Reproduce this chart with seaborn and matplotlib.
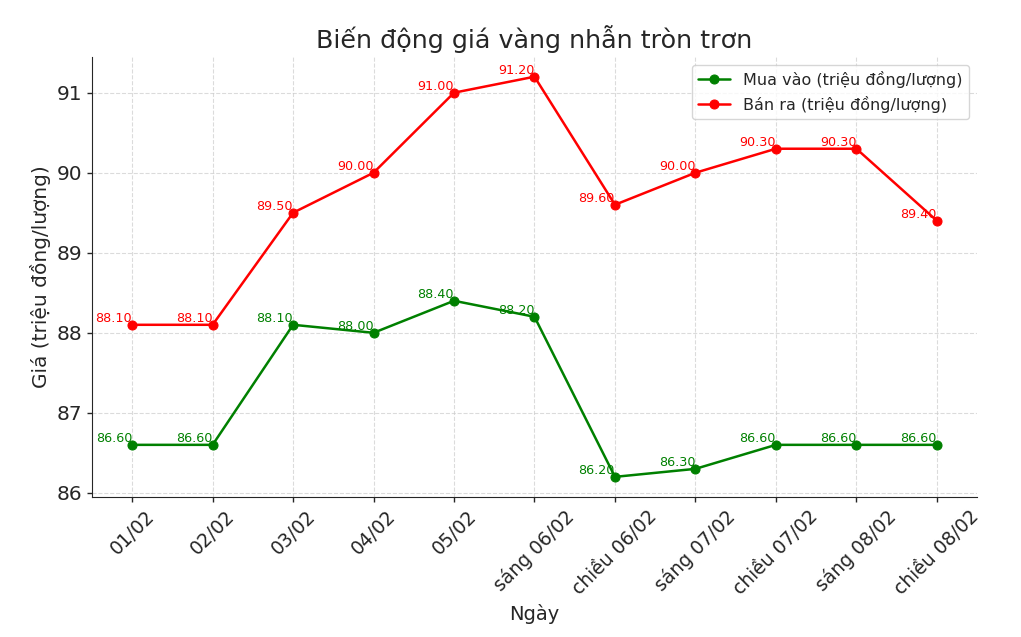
import matplotlib
matplotlib.use("Agg")
import matplotlib.pyplot as plt
import seaborn as sns
import pandas as pd

dates = ["01/02", "02/02", "03/02", "04/02", "05/02", "sáng 06/02", "chiều 06/02",
         "sáng 07/02", "chiều 07/02", "sáng 08/02", "chiều 08/02"]
mua_vao = [86.60, 86.60, 88.10, 88.00, 88.40, 88.20, 86.20, 86.30, 86.60, 86.60, 86.60]
ban_ra = [88.10, 88.10, 89.50, 90.00, 91.00, 91.20, 89.60, 90.00, 90.30, 90.30, 89.40]

sns.set_style("ticks")
plt.rcParams['font.family'] = ['DejaVu Sans']

fig = plt.figure(figsize=(10.21, 6.37), dpi=100)
ax = fig.add_axes([0.090, 0.220, 0.867, 0.691])

x = list(range(len(dates)))
df = pd.DataFrame({"x": x, "mua": mua_vao, "ban": ban_ra})

sns.lineplot(data=df, x="x", y="mua", ax=ax, color="green", marker="o",
             markersize=6.5, markeredgecolor="green", linewidth=1.8,
             label="Mua vào (triệu đồng/lượng)")
sns.lineplot(data=df, x="x", y="ban", ax=ax, color="red", marker="o",
             markersize=6.5, markeredgecolor="red", linewidth=1.8,
             label="Bán ra (triệu đồng/lượng)")

for xi, v in zip(x, mua_vao):
    ax.text(xi, v, f"{v:.2f}", color="green", fontsize=9.2, ha="right", va="bottom")
for xi, v in zip(x, ban_ra):
    ax.text(xi, v, f"{v:.2f}", color="red", fontsize=9.2, ha="right", va="bottom")

ax.set_xticks(x)
ax.set_xticklabels(dates, rotation=45, fontsize=13.5)
ax.tick_params(axis="y", labelsize=14.5)
ax.tick_params(axis="both", length=3.5, width=1, pad=3.5)
ax.set_xlim(-0.5, 10.5)
ax.set_ylim(85.95, 91.45)
ax.set_yticks([86, 87, 88, 89, 90, 91])
ax.grid(True, linestyle="--", alpha=0.7)
ax.set_xlabel("Ngày", fontsize=14)
ax.set_ylabel("Giá (triệu đồng/lượng)", fontsize=14.5)
ax.set_title("Biến động giá vàng nhẫn tròn trơn", fontsize=18.3)
sns.despine(ax=ax)
ax.legend(loc="upper right", fontsize=11.5)

fig.savefig("out.png", dpi=100)
